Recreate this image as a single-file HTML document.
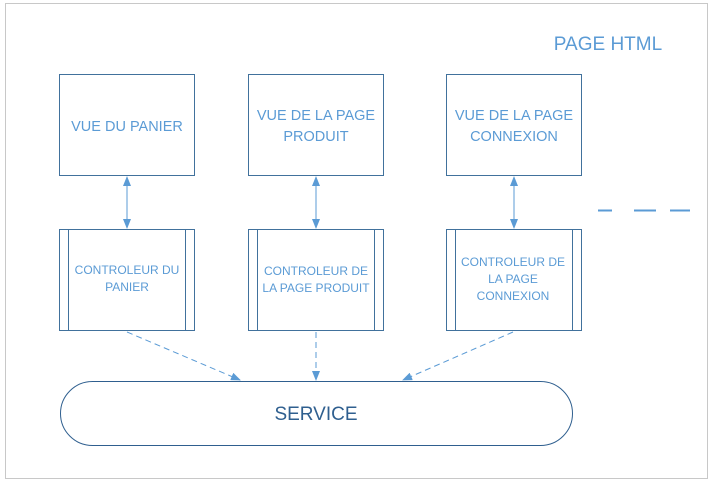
<!DOCTYPE html>
<html><head><meta charset="utf-8"><style>
html,body{margin:0;padding:0;background:#fff;}
svg{display:block;font-family:"Liberation Sans",sans-serif;}
</style></head><body>
<svg width="715" height="487" viewBox="0 0 715 487" xmlns="http://www.w3.org/2000/svg">
<defs>
<marker id="a" markerWidth="10" markerHeight="8" refX="9" refY="4" orient="auto-start-reverse" markerUnits="userSpaceOnUse">
<path d="M0,0 L10,4 L0,8 z" fill="#5b9bd5"/></marker>
</defs>
<rect x="5.5" y="3.5" width="702" height="475" fill="#fff" stroke="#c8c8c8"/>
<text x="608" y="50" font-size="19" fill="#5b9bd5" text-anchor="middle">PAGE HTML</text>
<g fill="#fff" stroke="#41719c" stroke-width="1">
<rect x="59.5" y="74.5" width="135" height="101"/>
<rect x="248.5" y="74.5" width="135" height="101"/>
<rect x="446.5" y="74.5" width="135" height="101"/>
<rect x="59.5" y="229.5" width="135" height="101"/>
<rect x="248.5" y="229.5" width="135" height="101"/>
<rect x="446.5" y="229.5" width="135" height="101"/>
<line x1="68.5" y1="229.5" x2="68.5" y2="330.5"/><line x1="185.5" y1="229.5" x2="185.5" y2="330.5"/>
<line x1="257.5" y1="229.5" x2="257.5" y2="330.5"/><line x1="374.5" y1="229.5" x2="374.5" y2="330.5"/>
<line x1="455.5" y1="229.5" x2="455.5" y2="330.5"/><line x1="572.5" y1="229.5" x2="572.5" y2="330.5"/>
</g>
<rect x="60.5" y="381.5" width="512" height="64" rx="32" fill="#fff" stroke="#2f5f8f"/>
<text x="316" y="420" font-size="19" fill="#2f5f8f" text-anchor="middle">SERVICE</text>
<g font-size="14.5" fill="#5b9bd5" text-anchor="middle">
<text x="127" y="131">VUE DU PANIER</text>
<text x="316" y="120">VUE DE LA PAGE</text><text x="316" y="141">PRODUIT</text>
<text x="514" y="120">VUE DE LA PAGE</text><text x="514" y="141">CONNEXION</text>
</g>
<g font-size="12" fill="#5b9bd5" text-anchor="middle">
<text x="127" y="274">CONTROLEUR DU</text><text x="127" y="291">PANIER</text>
<text x="316" y="275">CONTROLEUR DE</text><text x="316" y="292">LA PAGE PRODUIT</text>
<text x="513" y="266">CONTROLEUR DE</text><text x="513" y="283">LA PAGE</text><text x="513" y="300">CONNEXION</text>
</g>
<g stroke="#5b9bd5" stroke-width="1">
<line x1="127" y1="177" x2="127" y2="228" marker-start="url(#a)" marker-end="url(#a)"/>
<line x1="316" y1="177" x2="316" y2="228" marker-start="url(#a)" marker-end="url(#a)"/>
<line x1="514" y1="177" x2="514" y2="228" marker-start="url(#a)" marker-end="url(#a)"/>
<g stroke-dasharray="6,4">
<line x1="127" y1="332" x2="240" y2="380" marker-end="url(#a)"/>
<line x1="316" y1="332" x2="316" y2="380" marker-end="url(#a)"/>
<line x1="513" y1="332" x2="403" y2="380" marker-end="url(#a)"/>
</g>
<g stroke-width="2">
<line x1="598" y1="210.5" x2="612" y2="210.5"/>
<line x1="634" y1="210.5" x2="656" y2="210.5"/>
<line x1="670" y1="210.5" x2="690" y2="210.5"/>
</g>
</g>
</svg>
</body></html>
